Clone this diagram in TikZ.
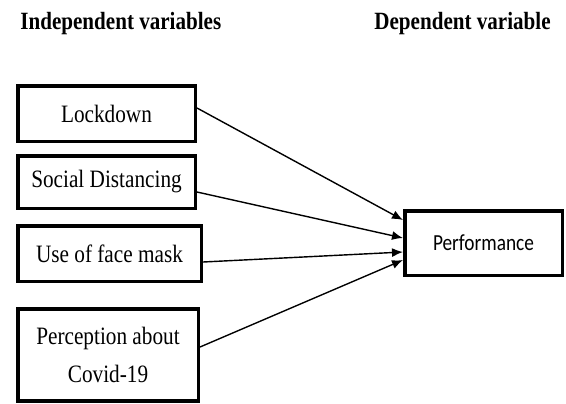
\documentclass[tikz,border=0pt]{standalone}
\usepackage{fontspec}
\setmainfont{Liberation Serif}[FakeStretch=0.85]
\newfontfamily\calibri{Carlito}[FakeStretch=0.84]
\usetikzlibrary{arrows.meta}

\begin{document}
\begin{tikzpicture}[x=0.5pt,y=-0.5pt,
    var/.style={draw,line width=1.75pt,inner sep=0pt,align=center,
        font=\fontsize{12.5}{19}\selectfont},
    head/.style={anchor=west,inner sep=0pt,font=\bfseries\fontsize{12.4}{14}\selectfont},
    link/.style={line width=0.7pt,-{Latex[length=5.5pt,width=4.5pt]}}]
    \useasboundingbox (0,0) rectangle (566,403);
    % headings
    \node[head] (indep) at (20,24) {Independent variables};
    \node[head] (dep) at (374,24) {Dependent variable};
    % independent variables
    \node[var,minimum width=88.75pt,minimum height=27.75pt] (lock) at (106.5,113.5) {Lockdown};
    \node[var,minimum width=88.75pt,minimum height=26.25pt] (social) at (106.5,182) {Social Distancing};
    \node[var,minimum width=91.75pt,minimum height=27.75pt] (mask) at (109.5,253.5) {Use of face mask};
    \node[var,minimum width=90.25pt,minimum height=46pt] (percep) at (108,355) {Perception about\\Covid-19};
    % dependent variable
    \node[var,minimum width=78.75pt,minimum height=32.25pt,font=\calibri\fontsize{11.5}{14}\selectfont] (perf) at (483.5,243) {Performance};
    %arrows
    \draw[link] ([yshift=2.75pt]lock.east) -- ([yshift=11.5pt]perf.west);
    \draw[link] ([yshift=-5pt]social.east) -- ([yshift=2.5pt]perf.west);
    \draw[link] ([yshift=-4.25pt]mask.east) -- ([yshift=-4.5pt]perf.west);
    \draw[link] ([yshift=4pt]percep.east) -- ([yshift=-8.5pt]perf.west);
\end{tikzpicture}
\end{document}
